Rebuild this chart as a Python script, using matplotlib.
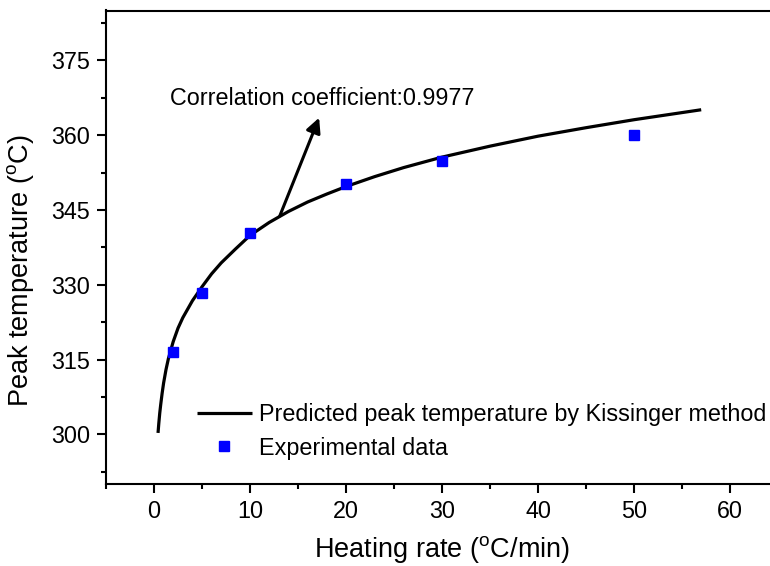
import matplotlib
matplotlib.use("Agg")
import matplotlib.pyplot as plt
from matplotlib.ticker import MultipleLocator

plt.rcParams['font.family'] = ['Liberation Sans', 'DejaVu Sans']
plt.rcParams['mathtext.fontset'] = 'custom'
plt.rcParams['mathtext.rm'] = 'Liberation Sans'

# Predicted curve
curve_x = [0.42, 0.5, 0.6, 0.7, 0.85, 1.0, 1.25, 1.5, 2.0, 2.5, 3.0, 4.0, 5.0, 6.0, 7.0, 8.5,
           10, 12, 14, 16, 18, 20, 23, 26, 30, 35, 40, 45, 50, 57]
curve_y = [300.3, 302.2, 304.3, 306.0, 308.3, 310.3, 313.0, 315.2, 318.6, 321.3, 323.4, 326.8,
           329.6, 332.2, 334.4, 337.2, 339.9, 342.5, 344.7, 346.6, 348.2, 349.7, 351.7,
           353.5, 355.6, 357.8, 359.8, 361.5, 363.1, 365.1]

# Experimental data
exp_x = [2, 5, 10, 20, 30, 50]
exp_y = [316.5, 328.3, 340.4, 350.2, 354.8, 360.1]

xticks = [0, 10, 20, 30, 40, 50, 60]
yticks = [300, 315, 330, 345, 360, 375]

W, H = 770, 566
fig = plt.figure(figsize=(W / 100, H / 100), dpi=100)
left, right, top, bottom = 106, 778, 10.5, 484.3
ax = fig.add_axes([left / W, 1 - bottom / H, (right - left) / W, (bottom - top) / H])

ax.plot(curve_x, curve_y, color='black', lw=2.3, solid_capstyle='butt', solid_joinstyle='round',
        label='Predicted peak temperature by Kissinger method')
ax.plot(exp_x, exp_y, ls='none', marker='s', ms=6.8, color='#0000FF', mec='#0000FF',
        label='Experimental data')

ax.set_xlim(-5, 65)
ax.set_ylim(290, 385)
ax.set_xticks(xticks)
ax.set_yticks(yticks)
ax.xaxis.set_minor_locator(MultipleLocator(5))
ax.yaxis.set_minor_locator(MultipleLocator(7.5))

for s in ['left', 'bottom', 'top', 'right']:
    ax.spines[s].set_linewidth(1.5)

ax.tick_params(which='both', direction='out', width=1.5, labelsize=16.8, top=False, right=False)
ax.tick_params(which='major', length=6.5, pad=5)
ax.tick_params(which='minor', length=3.5)

ax.set_xlabel('Heating rate ($^{\\rm o}$C/min)', fontsize=19.5, labelpad=8)
ax.set_ylabel('Peak temperature ($^{\\rm o}$C)', fontsize=19.5, va='center')
ax.yaxis.set_label_coords((20.8 - left) / (right - left), 0.45)

ax.annotate('', xy=(17.2, 363.5), xytext=(13.1, 343.8),
            arrowprops=dict(arrowstyle='-|>', lw=2.2, color='black', mutation_scale=22,
                            shrinkA=0, shrinkB=0))
ax.text(1.65, 366.0, 'Correlation coefficient:0.9977', fontsize=16.8, ha='left', va='baseline')

leg = ax.legend(loc='upper left', bbox_to_anchor=((197 - left) / (right - left), 1 - (403 - top) / (bottom - top)),
                frameon=False, fontsize=16.8, handlelength=2.35, handletextpad=0.3,
                borderpad=0, borderaxespad=0, labelspacing=0.45, markerscale=1.0)

fig.savefig('out.png', dpi=100)
